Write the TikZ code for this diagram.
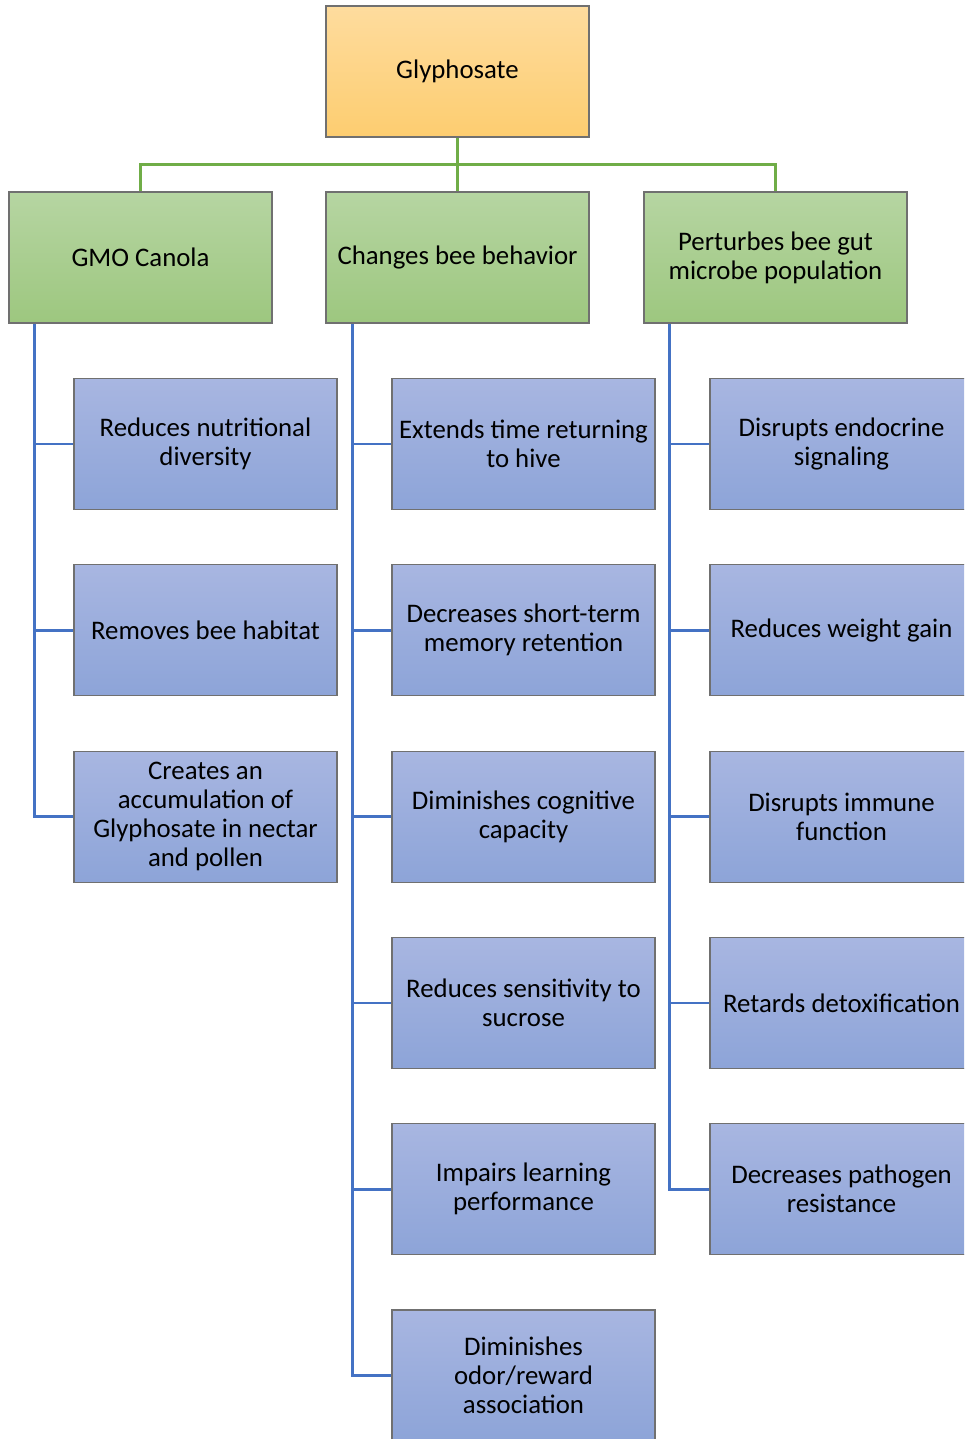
\documentclass[tikz,border=0pt]{standalone}
\usepackage{fontspec}
\setmainfont{Carlito}
\usetikzlibrary{positioning,calc}

\definecolor{orangetop}{RGB}{254,220,158}
\definecolor{orangebot}{RGB}{253,205,112}
\definecolor{greentop}{RGB}{182,213,162}
\definecolor{greenbot}{RGB}{157,199,127}
\definecolor{bluetop}{RGB}{168,182,225}
\definecolor{bluebot}{RGB}{141,164,216}
\definecolor{boxgrey}{RGB}{112,112,112}
\definecolor{linegreen}{RGB}{112,173,71}
\definecolor{lineblue}{RGB}{68,114,196}

\tikzset{
  box/.style={draw=boxgrey, line width=1.2pt, minimum width=263pt,
    minimum height=131pt, inner sep=0pt, align=center,
    font=\fontsize{26.8}{29}\selectfont},
  topbox/.style={box, top color=orangetop, bottom color=orangebot},
  catbox/.style={box, top color=greentop, bottom color=greenbot},
  leafbox/.style={box, top color=bluetop, bottom color=bluebot},
  greenline/.style={draw=linegreen, line width=2.6pt},
  blueline/.style={draw=lineblue, line width=2.6pt},
}

\begin{document}
\begin{tikzpicture}[x=1pt, y=-1pt]
    \def\pitch{186.3}
    \def\firsty{444}

    % page frame (picture is cut at the right and bottom)
    \useasboundingbox (0,0) rectangle (964,1439);
    \clip (0,0) rectangle (964,1439);

    % Root
    \node[topbox] (glyph) at (457.5,71.5) {Glyphosate};

    % Second level
    \node[catbox] (gmo)   at (140.5,257.5) {GMO Canola};
    \node[catbox] (behav) at (457.5,257.5) {Changes bee behavior};
    \node[catbox] (gut)   at (775.5,257.5) {Perturbes bee gut\\microbe population};

    % Root to second level
    \coordinate (bus) at ($(glyph.south)!0.5!(behav.north)$);
    \draw[greenline] (glyph.south) -- (behav.north);
    \draw[greenline] (gmo.north) |- (bus) -| (gut.north);

    % GMO Canola leaves
    \foreach \txt [count=\i] in {{Reduces nutritional\\diversity},
        {Removes bee habitat},
        {Creates an\\accumulation of\\Glyphosate in nectar\\and pollen}}{
        \node[leafbox] (g\i) at (205.5, \firsty+\pitch*\i-\pitch) {\txt};
    }
    % Bee behavior leaves
    \foreach \txt [count=\i] in {{Extends time returning\\to hive},
        {Decreases short-term\\memory retention},
        {Diminishes cognitive\\capacity},
        {Reduces sensitivity to\\sucrose},
        {Impairs learning\\performance},
        {Diminishes\\odor/reward\\association}}{
        \node[leafbox] (b\i) at (523.5, \firsty+\pitch*\i-\pitch) {\txt};
    }
    % Gut microbe leaves
    \foreach \txt [count=\i] in {{Disrupts endocrine\\signaling},
        {Reduces weight gain},
        {Disrupts immune\\function},
        {Retards detoxification},
        {Decreases pathogen\\resistance}}{
        \node[leafbox] (m\i) at (841.5, \firsty+\pitch*\i-\pitch) {\txt};
    }

    % Trunks and stubs
    \coordinate (gtrunk) at ([xshift=26pt]gmo.south west);
    \coordinate (btrunk) at ([xshift=27pt]behav.south west);
    \coordinate (mtrunk) at ([xshift=26pt]gut.south west);

    \draw[blueline] (gtrunk) |- (g3.west);
    \foreach \i in {1,2}{
        \draw[blueline] (gtrunk |- g\i.west) -- (g\i.west);
    }
    \draw[blueline] (btrunk) |- (b6.west);
    \foreach \i in {1,...,5}{
        \draw[blueline] (btrunk |- b\i.west) -- (b\i.west);
    }
    \draw[blueline] (mtrunk) |- (m5.west);
    \foreach \i in {1,...,4}{
        \draw[blueline] (mtrunk |- m\i.west) -- (m\i.west);
    }
\end{tikzpicture}
\end{document}
